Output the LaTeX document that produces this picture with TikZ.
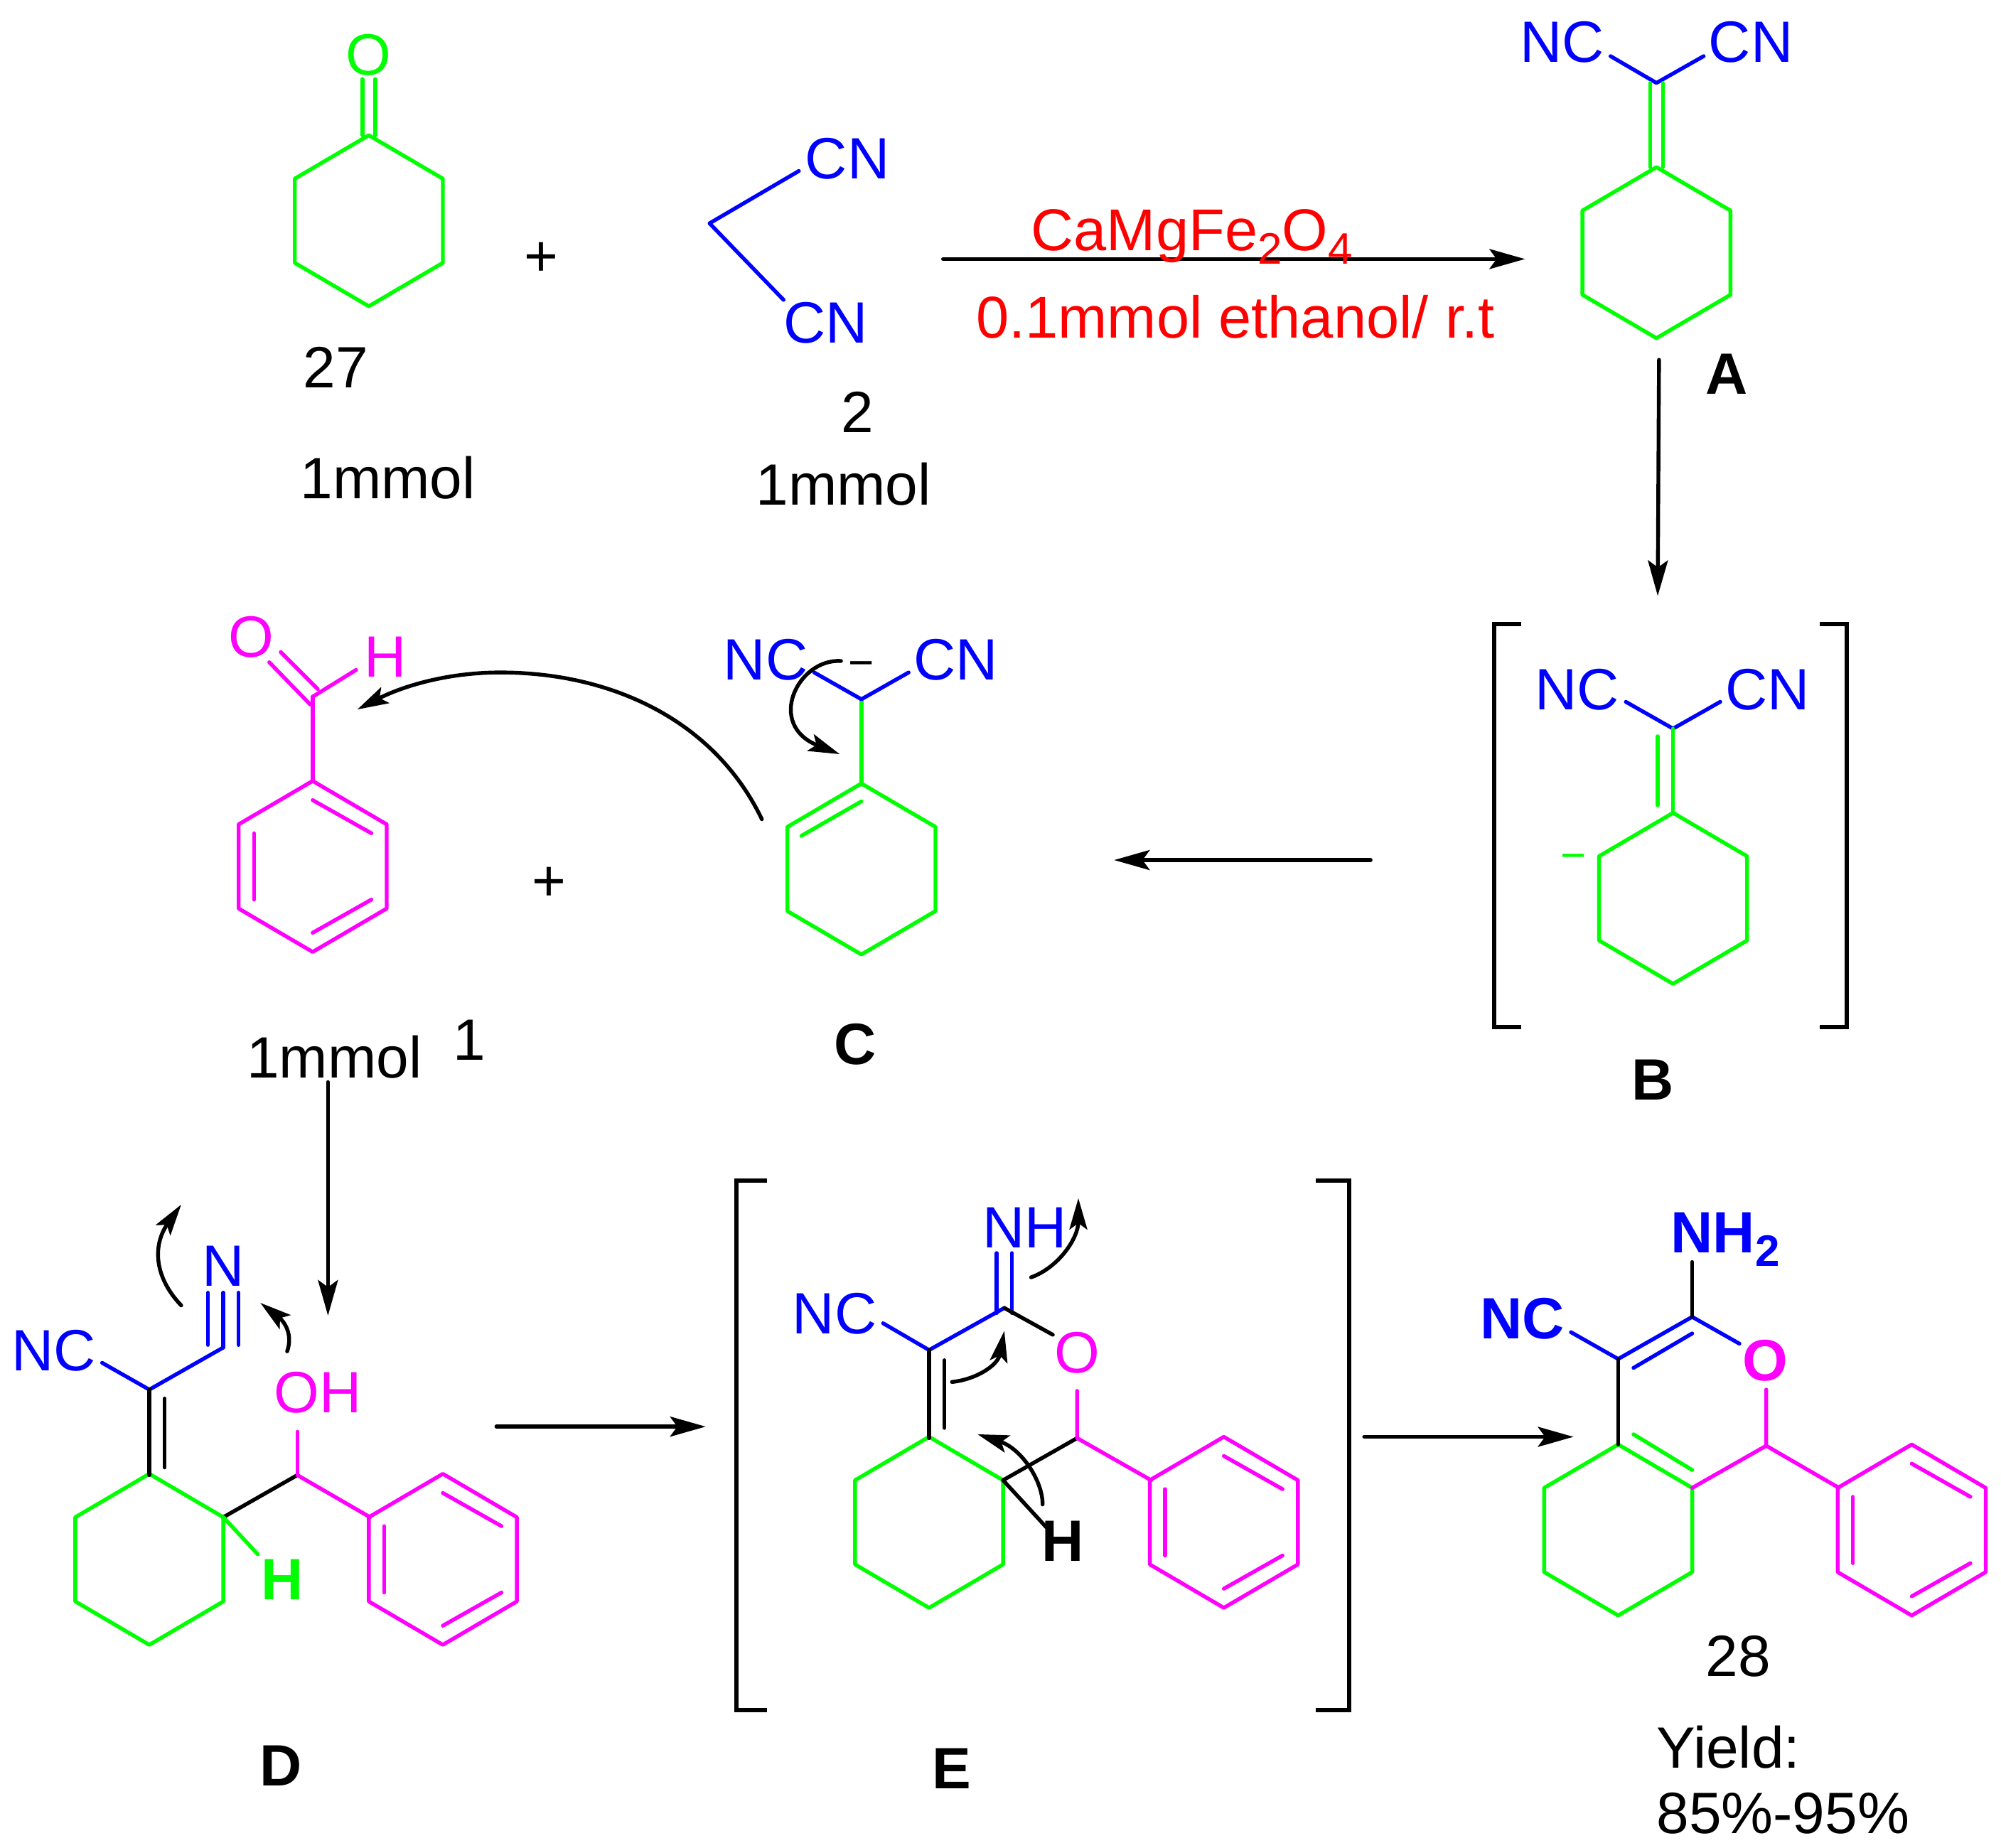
\documentclass[tikz,border=0pt]{standalone}
\usepackage{fontspec}
\setmainfont{Liberation Sans}
\usetikzlibrary{arrows.meta}
\definecolor{colG}{RGB}{0,255,0}
\definecolor{colB}{RGB}{0,0,255}
\definecolor{colM}{RGB}{255,0,255}
\definecolor{colR}{RGB}{255,0,0}
% ring through six corners: centre x, centre y, colour
\newcommand{\hexring}[3]{\draw[bond,#3] (#1,#2-67) -- (#1-58,#2-33) -- (#1-58,#2+33) -- (#1,#2+67) -- (#1+58,#2+33) -- (#1+58,#2-33) -- cycle;}
\newcommand{\phenyl}[2]{\hexring{#1}{#2}{colM}
  \draw[bond,colM] (#1-46,#2-26) -- (#1-46,#2+26);
  \draw[bond,colM] (#1,#2-52) -- (#1+46,#2-26);
  \draw[bond,colM] (#1,#2+52) -- (#1+46,#2+26);}
\newcommand{\sbs}[1]{\raisebox{-19pt}{\fontsize{62}{70}\selectfont #1}}
\tikzset{
  bond/.style={line width=5.4pt,line cap=round,line join=round},
  lbl/.style={inner sep=0pt,text depth=0pt,font=\fontsize{82}{90}\selectfont},
  redlbl/.style={lbl,text=colR,font=\fontsize{83}{90}\selectfont},
  boldlbl/.style={lbl,font=\fontsize{82}{90}\selectfont\bfseries},
  minuslbl/.style={inner sep=0pt,anchor=base,font=\fontsize{62}{70}\selectfont},
  rxn/.style={bond,-{Stealth[length=50pt,width=28pt,inset=10pt]}},
  curly/.style={bond,-{Stealth[length=44pt,width=25pt,inset=9pt]}},
  brk/.style={line width=6pt,line cap=butt,line join=miter}
}
\begin{document}
\begin{tikzpicture}[x=1.795pt,y=-1.795pt]
\useasboundingbox (0,0) rectangle (1568,1448);
% --- cyclohexanone 27
\hexring{289}{173}{colG}
\node[lbl,text=colG] (oA) at (289,43) {O};
\draw[bond,colG] (284,62) -- (284,106);
\draw[bond,colG] (294,62) -- (294,106);
\node[lbl] (plusA) at (424,203) {+};
\node[lbl] (n27) at (263,288) {27};
\node[lbl] (mmolA) at (304,374) {1mmol};
% --- malononitrile 2
\node[lbl,text=colB] (cnA) at (664,124) {CN};
\node[lbl,text=colB] (cnB) at (647,253) {CN};
\draw[bond,colB] (626,134) -- (556,175) -- (614,235);
\node[lbl] (n2) at (672,323) {2};
\node[lbl] (mmolB) at (661,379) {1mmol};
% --- reaction arrow 1
\coordinate (r1s) at (739,203);
\coordinate (r1e) at (1195,203);
\draw[rxn] (r1s) -- (r1e);
\node[redlbl] (cat) at (934,180) {CaMgFe\sbs{2}O\sbs{4}};
\node[redlbl] (sol) at (968,248) {0.1mmol ethanol/ r.t};
% --- A
\hexring{1298}{198}{colG}
\node[lbl,text=colB] (ncA) at (1224,33) {NC};
\node[lbl,text=colB] (cnC) at (1372,33) {CN};
\draw[bond,colB] (1262,44) -- (1298,65) -- (1335,44);
\draw[bond,colG] (1293,65) -- (1293,131);
\draw[bond,colG] (1303,65) -- (1303,131);
\node[boldlbl] (labA) at (1353,293) {A};
\coordinate (r2s) at (1300,282);
\coordinate (r2e) at (1299,467);
\draw[rxn] (r2s) -- (r2e);
% --- B
\draw[brk] (1192,489) -- (1171,489) -- (1171,805) -- (1192,805);
\draw[brk] (1426,489) -- (1447,489) -- (1447,805) -- (1426,805);
\hexring{1311}{704}{colG}
\node[lbl,text=colB] (ncB) at (1236,540) {NC};
\node[lbl,text=colB] (cnD) at (1385,540) {CN};
\draw[bond,colB] (1274,550) -- (1311,571) -- (1348,550);
\draw[bond,colG] (1311,571) -- (1311,637);
\draw[bond,colG] (1299,577) -- (1299,631);
\node[minuslbl,text=colG] (minB) at (1233,682) {−};
\node[boldlbl] (labB) at (1295,846) {B};
\coordinate (r3s) at (1074,674);
\coordinate (r3e) at (873,674);
\draw[rxn] (r3s) -- (r3e);
% --- C
\hexring{675}{681}{colG}
\draw[bond,colG] (628,655) -- (675,628);
\draw[bond,colG] (675,548) -- (675,615);
\node[lbl,text=colB] (ncC) at (600,517) {NC};
\node[lbl,text=colB] (cnE) at (749,517) {CN};
\draw[bond,colB] (638,527) -- (675,548) -- (712,527);
\node[minuslbl] (minC) at (675,531) {−};
\coordinate (c1s) at (659,518);
\coordinate (c1e) at (658,591);
\draw[curly] (c1s) .. controls (625,516) and (600,568) .. (c1e);
\coordinate (c2s) at (597,642);
\coordinate (c2m) at (392,527);
\coordinate (c2e) at (280,556);
\draw[curly] (c2s) .. controls (560,565) and (480,527) .. (c2m) .. controls (350,527) and (315,538) .. (c2e);
\node[boldlbl] (labC) at (670,818) {C};
% --- benzaldehyde 1
\phenyl{245}{679}
\node[lbl,text=colM] (oB) at (197,499) {O};
\node[lbl,text=colM] (hB) at (302,515) {H};
\draw[bond,colM] (220,511) -- (249,540);
\draw[bond,colM] (211,519) -- (243,552);
\draw[bond,colM] (245,546) -- (279,525);
\draw[bond,colM] (245,546) -- (245,612);
\node[lbl] (plusB) at (430,693) {+};
\node[lbl] (mmolC) at (262,828) {1mmol};
\node[lbl] (n1) at (368,815) {1};
\coordinate (r4s) at (257,848);
\coordinate (r4e) at (257,1031);
\draw[rxn] (r4s) -- (r4e);
% --- D
\hexring{117}{1222}{colG}
\node[lbl,text=colB] (ncD) at (42,1058) {NC};
\node[lbl,text=colB] (nD) at (175,992) {N};
\draw[bond,colB] (80,1068) -- (117,1089) -- (175,1056);
\draw[bond,colB] (163,1013) -- (163,1054);
\draw[bond,colB] (175,1013) -- (175,1056);
\draw[bond,colB] (187,1013) -- (187,1054);
\draw[bond] (117,1089) -- (117,1156);
\draw[bond] (129,1096) -- (129,1150);
\draw[bond] (175,1189) -- (233,1156);
\draw[bond,colG] (175,1189) -- (202,1218);
\node[boldlbl,text=colG] (hD) at (221,1238) {H};
\node[lbl,text=colM] (ohD) at (249,1091) {OH};
\draw[bond,colM] (233,1156) -- (233,1122);
\draw[bond,colM] (233,1156) -- (290,1189);
\phenyl{347}{1222}
\coordinate (d1s) at (142,1023);
\coordinate (d1e) at (142,944);
\draw[curly] (d1s) .. controls (120,1000) and (120,975) .. (d1e);
\coordinate (d2s) at (225,1059);
\coordinate (d2e) at (204,1021);
\draw[curly] (d2s) .. controls (230,1045) and (222,1035) .. (d2e);
\node[boldlbl] (labD) at (220,1384) {D};
\coordinate (r5s) at (389,1118);
\coordinate (r5e) at (553,1118);
\draw[rxn] (r5s) -- (r5e);
% --- E
\draw[brk] (601,925) -- (577,925) -- (577,1340) -- (601,1340);
\draw[brk] (1031,925) -- (1057,925) -- (1057,1340) -- (1031,1340);
\hexring{728}{1193}{colG}
\node[lbl,text=colB] (ncE) at (654,1029) {NC};
\node[lbl,text=colB] (nhE) at (803,962) {NH};
\node[lbl,text=colM] (oE) at (844,1060) {O};
\draw[bond,colB] (692,1037) -- (728,1058) -- (787,1025);
\draw[bond,colB] (781,982) -- (781,1029);
\draw[bond,colB] (793,982) -- (793,1029);
\draw[bond] (787,1025) -- (825,1046);
\draw[bond] (728,1058) -- (728,1127);
\draw[bond] (740,1066) -- (740,1119);
\draw[bond] (844,1127) -- (786,1160);
\draw[bond] (786,1160) -- (820,1197);
\node[boldlbl] (hE) at (833,1208) {H};
\draw[bond,colM] (844,1090) -- (844,1127) -- (902,1160);
\phenyl{959}{1193}
\coordinate (e1s) at (808,1001);
\coordinate (e1e) at (845,939);
\draw[curly] (e1s) .. controls (830,993) and (845,970) .. (e1e);
\coordinate (e2s) at (746,1083);
\coordinate (e2e) at (787,1043);
\draw[curly] (e2s) .. controls (765,1081) and (782,1070) .. (e2e);
\coordinate (e3s) at (817,1179);
\coordinate (e3e) at (766,1124);
\draw[curly] (e3s) .. controls (817,1160) and (800,1135) .. (e3e);
\node[boldlbl] (labE) at (746,1386) {E};
\coordinate (r6s) at (1069,1126);
\coordinate (r6e) at (1233,1126);
\draw[rxn] (r6s) -- (r6e);
% --- product 28
\hexring{1268}{1199}{colG}
\node[boldlbl,text=colB] (ncF) at (1193,1033) {NC};
\node[boldlbl,text=colB] (nhF) at (1352,966) {NH\sbs{2}};
\node[boldlbl,text=colM] (oF) at (1383,1066) {O};
\draw[bond,colB] (1231,1044) -- (1268,1065) -- (1326,1032) -- (1363,1053);
\draw[bond,colB] (1280,1072) -- (1326,1045);
\draw[bond] (1326,989) -- (1326,1032);
\draw[bond] (1268,1065) -- (1268,1132);
\draw[bond,colG] (1280,1124) -- (1326,1152);
\draw[bond,colM] (1384,1089) -- (1384,1133) -- (1326,1166);
\draw[bond,colM] (1384,1133) -- (1441,1166);
\phenyl{1498}{1199}
\node[lbl] (n28) at (1362,1298) {28};
\node[lbl,anchor=west] (yA) at (1298,1369) {Yield:};
\node[lbl,anchor=west] (yB) at (1298,1421) {85\%-95\%};
\end{tikzpicture}
\end{document}
